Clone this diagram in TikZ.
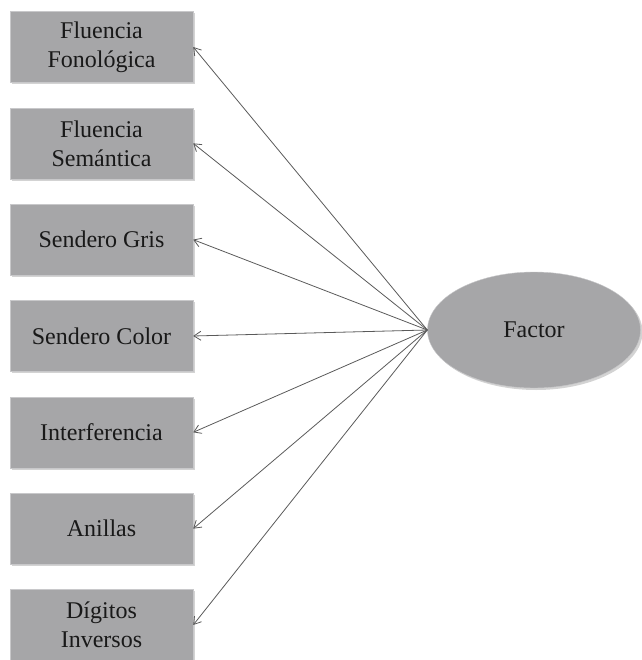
\documentclass[tikz,border=0pt]{standalone}
\usepackage{fontspec}
\setmainfont{Liberation Serif}
\usepackage{tikz}
\usetikzlibrary{shapes.geometric,shadows,arrows.meta}
\definecolor{boxgray}{RGB}{166,166,168}
\definecolor{edgegray}{RGB}{200,200,202}
\definecolor{linegray}{RGB}{90,90,90}

\begin{document}
\begin{tikzpicture}[x=1pt,y=1pt,
                    test/.style={rectangle,draw=edgegray,fill=boxgray,minimum width=183,minimum height=71,
                                 align=center,text=black!90,font=\fontsize{24}{29}\selectfont,
                                 drop shadow={shadow xshift=2pt,shadow yshift=-2pt,opacity=0.35}},
                    factor/.style={ellipse,draw=edgegray,fill=boxgray,minimum width=213,minimum height=116,
                                   text=black!90,font=\fontsize{24}{29}\selectfont,
                                   drop shadow={shadow xshift=2pt,shadow yshift=-2pt,opacity=0.35}},
                    load/.style={-{Straight Barb[length=7pt,width=9pt]},draw=linegray,line width=0.8pt}
                ]
                    \useasboundingbox (0,0) rectangle (641,-660);
                    \node[factor] (factor) at (534,-330) {Factor};
                    \foreach \name/\txt [count=\i] in {fonol/{Fluencia\\Fonológica},
                                                       seman/{Fluencia\\Semántica},
                                                       gris/{Sendero Gris},
                                                       color/{Sendero Color},
                                                       interf/{Interferencia},
                                                       anillas/{Anillas},
                                                       digitos/{Dígitos\\Inversos}}
                        {
                        \node[test] (\name) at (101.5,{-47-(\i-1)*96.33}) {\txt};
                        \draw[load] (factor.west) -- (\name.east);
                    }
                \end{tikzpicture}
\end{document}
